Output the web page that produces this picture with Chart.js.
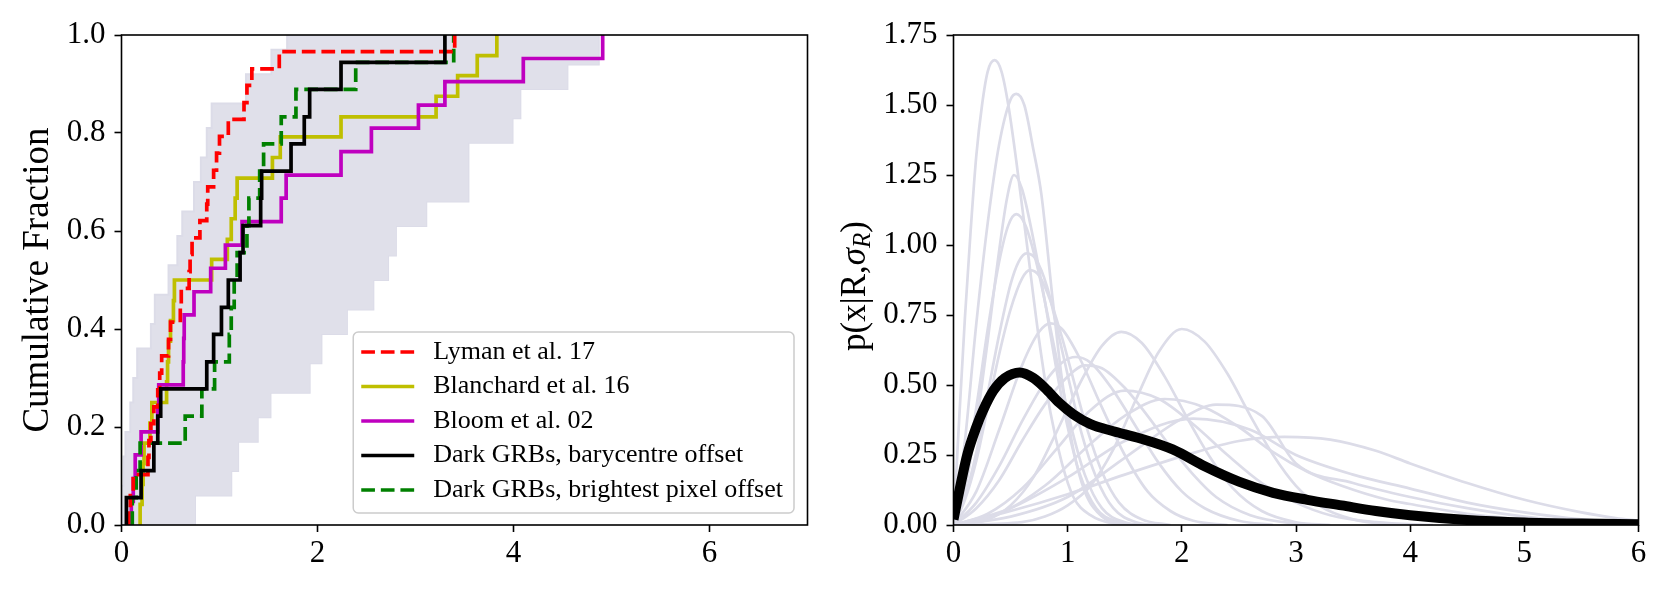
<!DOCTYPE html>
<html>
<head>
<meta charset="utf-8">
<script src="https://cdn.jsdelivr.net/npm/chart.js@4.4.1/dist/chart.umd.min.js"></script>
<style>
  html, body { margin: 0; padding: 0; background: #fff; }
  .panel { position: absolute; left: 0; top: 0; width: 1670px; height: 596px; }
</style>
</head>
<body>
<div class="panel"><canvas id="cdf" width="1670" height="596"></canvas></div>
<div class="panel"><canvas id="pdf" width="1670" height="596"></canvas></div>
<script>
// ---------- left panel: cumulative offset distributions ----------
const lymanX = [0.07, 0.09, 0.12, 0.27, 0.28, 0.30, 0.33, 0.37, 0.39, 0.41, 0.48, 0.50, 0.60, 0.61, 0.69,
                0.70, 0.72, 0.80, 0.87, 0.88, 0.94, 0.97, 1.00, 1.09, 1.25, 1.28, 1.33, 1.61, 3.40];
const lymanY = [0.034, 0.069, 0.103, 0.138, 0.172, 0.207, 0.241, 0.276, 0.310, 0.345, 0.379, 0.414, 0.448, 0.483, 0.517,
                0.552, 0.586, 0.621, 0.655, 0.690, 0.724, 0.759, 0.793, 0.828, 0.862, 0.897, 0.931, 0.966, 1.0];

const blanchardX = [0.19, 0.21, 0.22, 0.23, 0.29, 0.31, 0.46, 0.47, 0.48, 0.50, 0.53, 0.54,
                    0.92, 1.08, 1.12, 1.16, 1.18, 1.54, 1.62, 2.24, 3.21, 3.43, 3.63, 3.83];
const blanchardY = [0.042, 0.083, 0.125, 0.167, 0.208, 0.250, 0.292, 0.333, 0.375, 0.417, 0.458, 0.500,
                    0.542, 0.583, 0.625, 0.667, 0.708, 0.750, 0.792, 0.833, 0.875, 0.917, 0.958, 1.0];

const bloomX = [0.10, 0.12, 0.14, 0.20, 0.37, 0.38, 0.63, 0.635, 0.64, 0.74, 0.91,
                1.06, 1.23, 1.63, 1.68, 2.24, 2.55, 3.03, 3.30, 4.10, 4.91];
const bloomY = [0.048, 0.095, 0.143, 0.190, 0.238, 0.286, 0.333, 0.381, 0.429, 0.476, 0.524,
                0.571, 0.619, 0.667, 0.714, 0.762, 0.810, 0.857, 0.905, 0.952, 1.0];

const baryX = [0.05, 0.20, 0.33, 0.37, 0.40, 0.87, 0.94, 1.02, 1.09, 1.21, 1.24, 1.42, 1.43, 1.73, 1.865, 1.92, 2.24, 3.30];
const brightX = [0.11, 0.15, 0.19, 0.65, 0.82, 0.95, 1.10, 1.12, 1.15, 1.18, 1.28, 1.30, 1.41, 1.45, 1.63, 1.78, 2.39, 3.39];
const darkY = [0.056, 0.111, 0.167, 0.222, 0.278, 0.333, 0.389, 0.444, 0.500, 0.556, 0.611, 0.667, 0.722, 0.778, 0.833, 0.889, 0.944, 1.0];

// envelope of the grey simulated CDFs
const bandLeftX = [0.0, 0.02, 0.04, 0.09, 0.12, 0.16, 0.30, 0.34, 0.48, 0.57, 0.62, 0.74, 0.81, 0.87, 0.92, 1.27, 1.53, 1.69];
const bandLeftY = [0.08, 0.14, 0.19, 0.25, 0.30, 0.36, 0.41, 0.47, 0.53, 0.59, 0.64, 0.70, 0.75, 0.81, 0.86, 0.92, 0.97, 1.0];
const bandRightX = [0.75, 1.12, 1.19, 1.39, 1.52, 1.92, 2.04, 2.30, 2.57, 2.72, 2.80, 3.11, 3.54, 3.99, 4.07, 4.55, 4.87];
const bandRightY = [0.06, 0.11, 0.17, 0.22, 0.27, 0.33, 0.39, 0.44, 0.50, 0.55, 0.61, 0.66, 0.78, 0.83, 0.89, 0.94, 1.0];

const cdfXTicks = [0, 2, 4, 6];
const cdfYTicks = [0, 0.2, 0.4, 0.6, 0.8, 1.0];

// ---------- right panel: p(x|R, sigma_R) curves ----------
const pdfA = [[0,0],[0.05,0.38],[0.1,0.74],[0.15,1.05],[0.2,1.32],[0.25,1.5],[0.3,1.62],[0.36,1.66],[0.42,1.62],[0.48,1.5],[0.55,1.3],[0.65,0.98],[0.75,0.66],[0.85,0.4],[0.95,0.22],[1.05,0.1],[1.2,0.035],[1.4,0.005],[1.6,0]];
const pdfB = [[0,0],[0.1,0.3],[0.2,0.72],[0.3,1.08],[0.4,1.36],[0.5,1.52],[0.55,1.54],[0.62,1.5],[0.7,1.34],[0.77,1.18],[0.87,0.8],[0.95,0.52],[1.05,0.27],[1.15,0.12],[1.3,0.03],[1.5,0]];
const pdfC = [[0,0],[0.1,0.13],[0.2,0.36],[0.3,0.66],[0.4,0.98],[0.47,1.17],[0.53,1.25],[0.6,1.2],[0.7,1.02],[0.8,0.8],[0.9,0.56],[1.0,0.35],[1.1,0.19],[1.25,0.06],[1.45,0.01],[1.6,0]];
const pdfD = [[0,0],[0.1,0.18],[0.2,0.42],[0.3,0.7],[0.4,0.94],[0.48,1.07],[0.55,1.11],[0.63,1.07],[0.73,0.93],[0.85,0.7],[0.95,0.5],[1.05,0.32],[1.15,0.18],[1.3,0.06],[1.5,0.01],[1.7,0]];
const pdfE = [[0,0],[0.1,0.1],[0.2,0.26],[0.3,0.47],[0.4,0.68],[0.5,0.86],[0.57,0.94],[0.64,0.97],[0.72,0.95],[0.82,0.85],[0.92,0.68],[1.02,0.5],[1.12,0.33],[1.25,0.17],[1.4,0.06],[1.6,0.01],[1.8,0]];
const pdfF = [[0,0],[0.1,0.09],[0.2,0.23],[0.3,0.42],[0.4,0.61],[0.5,0.77],[0.6,0.88],[0.67,0.91],[0.75,0.89],[0.85,0.8],[0.95,0.67],[1.05,0.52],[1.15,0.37],[1.3,0.19],[1.45,0.08],[1.65,0.02],[1.9,0]];
const pdfG = [[0,0],[0.2,0.12],[0.4,0.34],[0.6,0.57],[0.75,0.69],[0.85,0.72],[0.95,0.7],[1.1,0.6],[1.3,0.42],[1.5,0.25],[1.7,0.12],[1.9,0.05],[2.1,0.015],[2.4,0]];
const pdfH = [[0,0],[0.3,0.02],[0.5,0.07],[0.7,0.17],[0.9,0.33],[1.1,0.5],[1.3,0.64],[1.47,0.69],[1.65,0.65],[1.85,0.53],[2.05,0.38],[2.25,0.24],[2.45,0.13],[2.7,0.05],[3.0,0.01],[3.3,0]];
const pdfI = [[0,0],[0.6,0.01],[0.8,0.03],[1.0,0.07],[1.2,0.14],[1.4,0.27],[1.6,0.45],[1.8,0.62],[2.0,0.7],[2.2,0.655],[2.4,0.54],[2.6,0.39],[2.8,0.25],[3.0,0.14],[3.2,0.07],[3.5,0.02],[3.9,0]];
const pdfJ = [[0,0],[0.2,0.08],[0.4,0.21],[0.6,0.37],[0.8,0.51],[0.95,0.58],[1.07,0.6],[1.2,0.58],[1.4,0.48],[1.6,0.35],[1.8,0.22],[2.0,0.12],[2.2,0.06],[2.5,0.015],[2.8,0]];
const pdfK = [[0,0],[0.2,0.06],[0.4,0.16],[0.6,0.3],[0.8,0.43],[1.0,0.53],[1.15,0.57],[1.3,0.56],[1.5,0.49],[1.7,0.39],[1.9,0.28],[2.1,0.18],[2.3,0.1],[2.6,0.035],[3.0,0.005],[3.2,0]];
const pdfL = [[0,0],[0.3,0.04],[0.6,0.13],[0.9,0.27],[1.2,0.41],[1.5,0.48],[1.8,0.45],[2.1,0.36],[2.4,0.25],[2.7,0.15],[3.0,0.08],[3.3,0.035],[3.7,0.01],[4.2,0]];
const pdfM = [[0,0],[0.4,0.04],[0.8,0.14],[1.2,0.29],[1.5,0.39],[1.85,0.45],[2.2,0.42],[2.5,0.35],[2.8,0.26],[3.1,0.19],[3.4,0.14],[3.8,0.09],[4.0,0.075],[4.5,0.04],[5.0,0.02],[5.5,0.006],[6.0,0]];
const pdfN = [[0,0],[0.5,0.03],[1.0,0.1],[1.5,0.24],[2.0,0.38],[2.3,0.43],[2.7,0.39],[3.0,0.22],[3.5,0.15],[4.0,0.1],[4.5,0.06],[5.0,0.03],[5.5,0.012],[6.0,0.004]];
const pdfO = [[0,0],[0.5,0.05],[1.0,0.11],[1.5,0.18],[2.0,0.245],[2.5,0.3],[2.9,0.315],[3.3,0.305],[3.7,0.265],[4.0,0.22],[4.5,0.15],[5.0,0.09],[5.5,0.045],[5.8,0.025],[6.0,0.015]];
const pdfP = [[0,0],[0.5,0.06],[1.0,0.17],[1.5,0.3],[2.1,0.38],[2.6,0.34],[3.0,0.25],[3.5,0.18],[4.0,0.13],[4.5,0.08],[5.0,0.045],[5.5,0.02],[6.0,0.008]];
const pdfCurves = [pdfA, pdfB, pdfC, pdfD, pdfE, pdfF, pdfG, pdfH, pdfI, pdfJ, pdfK, pdfL, pdfM, pdfN, pdfO, pdfP];

const meanPdf = [[0,0.02],[0.05,0.12],[0.12,0.25],[0.2,0.35],[0.26,0.41],[0.35,0.48],[0.45,0.525],[0.58,0.545],[0.7,0.525],[0.8,0.49],[0.93,0.435],[1.05,0.395],[1.2,0.36],[1.4,0.335],[1.63,0.31],[1.92,0.27],[2.2,0.21],[2.5,0.155],[2.8,0.115],[3.1,0.09],[3.4,0.07],[3.7,0.05],[4.0,0.035],[4.5,0.018],[5.0,0.009],[5.5,0.005],[6.0,0.003]];

const pdfXTicks = [0, 1, 2, 3, 4, 5, 6];
const pdfYTicks = [0, 0.25, 0.5, 0.75, 1.0, 1.25, 1.5, 1.75];

// ---------- helpers ----------
const serif = "'Liberation Serif', 'DejaVu Serif', serif";
const lavender = '#dcdce8';
const bandFill = '#e0e0ea';
const W = 1670, H = 596;

function cdfPoints(xs, ys) {
  const pts = [{ x: xs[0], y: 0 }];
  xs.forEach((x, i) => pts.push({ x, y: ys[i] }));
  return pts;
}
const pairs = arr => arr.map(p => ({ x: p[0], y: p[1] }));

function xScale(min, max, ticks, height) {
  return {
    type: 'linear', min, max,
    afterBuildTicks: s => { s.ticks = ticks.map(v => ({ value: v })); },
    afterFit: s => { s.height = height; },
    grid: { drawOnChartArea: false, drawTicks: true, tickLength: 7, tickWidth: 1.6, tickColor: '#000' },
    border: { display: false },
    ticks: { color: '#000', font: { family: serif, size: 31 }, padding: 3, maxRotation: 0, autoSkip: false,
             callback: v => String(v) }
  };
}
function yScale(min, max, ticks, width, digits) {
  return {
    type: 'linear', min, max,
    afterBuildTicks: s => { s.ticks = ticks.map(v => ({ value: v })); },
    afterFit: s => { s.width = width; },
    grid: { drawOnChartArea: false, drawTicks: true, tickLength: 7, tickWidth: 1.6, tickColor: '#000' },
    border: { display: false },
    ticks: { color: '#000', font: { family: serif, size: 31 }, padding: 9, autoSkip: false,
             callback: v => v.toFixed(digits) }
  };
}

const frame = {
  id: 'frame',
  afterDatasetsDraw(chart) {
    const { ctx, chartArea: a } = chart;
    ctx.save();
    ctx.strokeStyle = '#000';
    ctx.lineWidth = 1.6;
    ctx.strokeRect(a.left, a.top, a.right - a.left, a.bottom - a.top);
    ctx.restore();
  }
};

// vertical axis title, drawn as rotated text pieces (for the subscript)
function axisTitle(pieces, dx, dy) {
  return {
    id: 'axisTitle',
    afterDraw(chart) {
      const { ctx, chartArea: a } = chart;
      ctx.save();
      ctx.translate(a.left - dx, (a.top + a.bottom) / 2 + (dy || 0));
      ctx.rotate(-Math.PI / 2);
      ctx.fillStyle = '#000';
      ctx.textBaseline = 'middle';
      let total = 0;
      pieces.forEach(p => { ctx.font = p.font; total += ctx.measureText(p.text).width; });
      let x = -total / 2;
      pieces.forEach(p => {
        ctx.font = p.font;
        ctx.fillText(p.text, x, p.shift || 0);
        x += ctx.measureText(p.text).width;
      });
      ctx.restore();
    }
  };
}

const legendBox = {
  id: 'legendBox',
  afterDraw(chart) {
    const { ctx, chartArea: a } = chart;
    const items = chart.data.datasets.filter(d => d.label);
    ctx.save();
    ctx.font = `26px ${serif}`;
    const textW = Math.max(...items.map(d => ctx.measureText(d.label).width));
    const rowH = 34.5, padL = 8, lineLen = 53, gap = 19, padR = 11;
    const w = padL + lineLen + gap + textW + padR;
    const h = items.length * rowH + 8.5;
    const right = a.right - 13.5, bottom = a.bottom - 12;
    const left = right - w, top = bottom - h;
    ctx.beginPath();
    ctx.roundRect(left, top, w, h, 5);
    ctx.fillStyle = 'rgba(255,255,255,0.8)';
    ctx.fill();
    ctx.strokeStyle = '#cccccc';
    ctx.lineWidth = 1.5;
    ctx.stroke();
    items.forEach((d, i) => {
      const y = top + 20 + i * rowH;
      ctx.beginPath();
      ctx.setLineDash(d.borderDash || []);
      ctx.strokeStyle = d.borderColor;
      ctx.lineWidth = d.borderWidth;
      ctx.moveTo(left + padL, y);
      ctx.lineTo(left + padL + lineLen, y);
      ctx.stroke();
      ctx.setLineDash([]);
      ctx.fillStyle = '#000';
      ctx.textBaseline = 'middle';
      ctx.fillText(d.label, left + padL + lineLen + gap, y);
    });
    ctx.restore();
  }
};

const common = {
  responsive: false,
  animation: false,
  events: [],
  elements: { point: { radius: 0 } },
};

// ---------- left chart ----------
const dash = [13.7, 5.9];
const bandUpper = cdfPoints(bandLeftX, bandLeftY);
bandUpper.push({ x: bandRightX[bandRightX.length - 1], y: 1 });
const bandLower = [{ x: 0, y: 0 }].concat(cdfPoints(bandRightX, bandRightY));

new Chart(document.getElementById('cdf'), {
  type: 'line',
  data: {
    datasets: [
      { label: 'Lyman et al. 17', data: cdfPoints(lymanX, lymanY), borderColor: '#ff0000', borderWidth: 3.7,
        borderDash: dash, stepped: true, fill: false, order: 2 },
      { label: 'Blanchard et al. 16', data: cdfPoints(blanchardX, blanchardY), borderColor: '#bfbf00', borderWidth: 3.7,
        stepped: true, fill: false, order: 5 },
      { label: 'Bloom et al. 02', data: cdfPoints(bloomX, bloomY), borderColor: '#bf00bf', borderWidth: 3.7,
        stepped: true, fill: false, order: 4 },
      { label: 'Dark GRBs, barycentre offset', data: cdfPoints(baryX, darkY), borderColor: '#000000', borderWidth: 3.7,
        stepped: true, fill: false, order: 1 },
      { label: 'Dark GRBs, brightest pixel offset', data: cdfPoints(brightX, darkY), borderColor: '#008000', borderWidth: 3.7,
        borderDash: dash, stepped: true, fill: false, order: 3 },
      { data: bandUpper, borderColor: lavender, borderWidth: 2, stepped: true,
        fill: '+1', backgroundColor: bandFill, order: 10 },
      { data: bandLower, borderColor: lavender, borderWidth: 2, stepped: true, fill: false, order: 11 }
    ]
  },
  options: {
    ...common,
    layout: { padding: { left: 0, top: 35, right: W - 807.5, bottom: 0 } },
    scales: {
      x: xScale(0, 7, cdfXTicks, 71),
      y: yScale(0, 1, cdfYTicks, 121.5, 1)
    },
    plugins: { legend: { display: false }, tooltip: { enabled: false } }
  },
  plugins: [frame, legendBox, axisTitle([{ text: 'Cumulative Fraction', font: `37px ${serif}` }], 83.5, 0)]
});

// ---------- right chart ----------
const pdfSets = pdfCurves.map(c => ({
  data: pairs(c), borderColor: lavender, borderWidth: 2.7, cubicInterpolationMode: 'monotone', fill: false, order: 5
}));
pdfSets.unshift({ data: pairs(meanPdf), borderColor: '#000', borderWidth: 10, cubicInterpolationMode: 'monotone',
                  fill: false, order: 1 });

new Chart(document.getElementById('pdf'), {
  type: 'line',
  data: { datasets: pdfSets },
  options: {
    ...common,
    layout: { padding: { left: 830, top: 35, right: W - 1638.5, bottom: 0 } },
    scales: {
      x: xScale(0, 6, pdfXTicks, 71),
      y: yScale(0, 1.75, pdfYTicks, 123.5, 2)
    },
    plugins: { legend: { display: false }, tooltip: { enabled: false } }
  },
  plugins: [frame, axisTitle([
    { text: 'p(x|R,', font: `35px ${serif}` },
    { text: 'σ', font: `italic 35px ${serif}` },
    { text: 'R', font: `italic 25px ${serif}`, shift: 8 },
    { text: ')', font: `35px ${serif}` }
  ], 98, 6)]
});
</script>
</body>
</html>
